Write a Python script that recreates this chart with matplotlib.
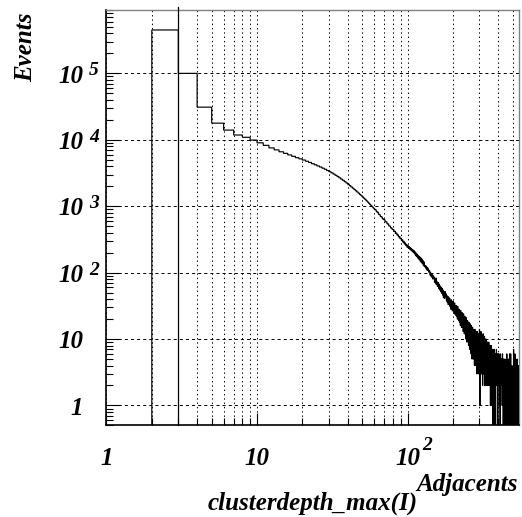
import numpy as np
import matplotlib
matplotlib.use('Agg')
import matplotlib.pyplot as plt
from matplotlib.ticker import LogLocator, NullFormatter

plt.rcParams['font.family'] = ['Liberation Serif', 'DejaVu Serif']
plt.rcParams['lines.scale_dashes'] = False

# histogram: one bin per integer, first filled bin starts at 2
first_bin = 2
counts = [
    450000, 100000, 31000, 17800, 14000, 11800, 10900, 9900,
    9000, 8250, 7550, 7050, 6600, 6250, 5920, 5630, 5380, 5160,
    4960, 4750, 4560, 4370, 4200, 4040, 3890, 3740, 3600, 3450,
    3310, 3180, 3050, 2920, 2800, 2680, 2560, 2450, 2340, 2240,
    2140, 2040, 1950, 1870, 1790, 1710, 1640, 1570, 1500, 1440,
    1380, 1320, 1265, 1210, 1160, 1110, 1065, 1020, 980, 940,
    905, 880, 826, 812, 760, 742, 700, 688, 648, 635,
    622, 585, 578, 545, 537, 505, 503, 474, 470, 446,
    447, 418, 420, 390, 395, 368, 370, 345, 348, 325,
    330, 305, 312, 288, 296, 270, 281, 258, 266, 243,
    256, 236, 246, 226, 237, 218, 228, 210, 220, 201,
    214, 192, 204, 180, 195, 174, 186, 165, 178, 158,
    172, 150, 166, 143, 160, 137, 152, 130, 145, 124,
    128, 119, 126, 113, 121, 108, 117, 110, 102, 108,
    104, 92, 99, 88, 95, 85, 92, 80, 89, 84,
    85, 72, 79, 70, 83, 66, 74, 69, 62, 71,
    70, 58, 66, 55, 63, 61, 52, 60, 49, 58,
    56, 46, 54, 42, 51, 49, 41, 52, 44, 47,
    48, 38, 45, 36, 44, 41, 33, 43, 37, 40,
    41, 31, 38, 35, 28, 39, 33, 36, 27, 35,
    37, 26, 33, 30, 24, 35, 28, 31, 23, 32,
    32, 22, 29, 26, 20, 31, 24, 27, 19, 28,
    28, 18, 26, 23, 16, 27, 21, 24, 15, 25,
    25, 15, 23, 20, 13, 24, 18, 21, 12, 22,
    22, 12, 20, 17, 10, 21, 15, 18, 9, 19,
    19, 10, 17, 15, 8, 18, 13, 16, 7, 17,
    17, 8, 15, 13, 6, 16, 11, 14, 5, 15,
    15, 7, 13, 11, 5, 14, 10, 12, 4, 13,
    14, 6, 12, 10, 4, 13, 9, 11, 3, 12,
    13, 5, 11, 9, 3, 12, 8, 10, 3, 11,
    14, 4, 1, 12, 3, 10, 5, 13, 3, 9,
    12, 3, 10, 4, 11, 2, 9, 5, 12, 3,
    10, 3, 9, 4, 11, 2, 8, 5, 10, 3,
    9, 2, 10, 4, 8, 3, 9, 2, 7, 4,
    9, 2, 8, 3, 7, 4, 9, 2, 8, 3,
    7, 3, 8, 2, 7, 1, 8, 3, 6, 2,
    8, 2, 7, 1, 6, 3, 7, 2, 0, 6,
    7, 1, 6, 3, 6, 0, 7, 2, 5, 1,
    6, 3, 5, 4, 0, 6, 4, 5, 3, 7,
    4, 5, 2, 6, 3, 4, 5, 0, 4, 6,
    3, 5, 4, 2, 6, 3, 4, 5, 1, 4,
    5, 3, 0, 4, 6, 2, 4, 3, 5, 3,
    4, 2, 5, 3, 4, 1, 3, 6, 2, 4,
    3, 5, 0, 3, 4, 2, 5, 3, 1, 4,
    2, 4, 3, 5, 0, 3, 2, 4, 3, 1,
    4, 2, 3, 0, 5, 2, 6, 4, 1, 3,
    2, 4, 1, 3, 0, 3, 2, 5, 2, 3,
    3, 1, 4, 2, 0, 3, 6, 1, 4, 2,
    2, 3, 0, 2, 6, 1, 3, 2, 0, 3,
    1, 3, 2, 4, 0, 2, 3, 1, 2, 0,
    3, 2, 1, 3, 0, 2, 7, 1, 2, 3,
    1, 0, 2, 3, 1, 2, 0, 6, 1, 2,
    2, 1, 5, 0, 2, 1, 2, 0, 3, 1,
    0, 2, 1, 2, 0, 5, 1, 1, 2, 0,
    1, 2, 0, 1, 2, 0, 1, 4, 1, 0,
]

x_range = (1, 550)
y_range = (0.5, 9e5)

xtick_vals = [1, 10, 100]
xtick_base = ['1', '10', '10']
xtick_exp = ['', '', '2']
ytick_vals = [1, 10, 1e2, 1e3, 1e4, 1e5]
ytick_base = ['1', '10', '10', '10', '10', '10']
ytick_exp = ['', '', '2', '3', '4', '5']

x_title = 'clusterdepth_max(I)'
x_unit = 'Adjacents'
y_title = 'Events'

edges = np.arange(first_bin, first_bin + len(counts) + 1)
vals = np.array(counts, dtype=float)
vals_disp = np.where(vals > 0, vals, 1e-3)   # empty bins drop to the floor like ROOT

fig = plt.figure(figsize=(5.22, 5.17), dpi=100)
ax = fig.add_axes([0.2040, 0.1770, 0.7902, 0.8037])
ax.set_xscale('log')
ax.set_yscale('log')
ax.set_xlim(*x_range)
ax.set_ylim(*y_range)

ax.stairs(vals_disp, edges, baseline=1e-3, color='black', lw=0.85, zorder=3)
# solid edge line that pokes just above the frame
ax.axvline(edges[1], ymin=0, ymax=1.006, clip_on=False, color='black', lw=0.9, zorder=3)

ax.xaxis.set_major_locator(LogLocator(base=10, numticks=10))
ax.xaxis.set_minor_locator(LogLocator(base=10, subs=np.arange(2, 10), numticks=20))
ax.yaxis.set_major_locator(LogLocator(base=10, numticks=20))
ax.yaxis.set_minor_locator(LogLocator(base=10, subs=np.arange(2, 10), numticks=20))
ax.xaxis.set_major_formatter(NullFormatter())
ax.xaxis.set_minor_formatter(NullFormatter())
ax.yaxis.set_major_formatter(NullFormatter())
ax.yaxis.set_minor_formatter(NullFormatter())

ax.tick_params(which='major', direction='in', length=9, width=0.8,
               top=False, right=False, color='black')
ax.tick_params(which='minor', direction='in', length=5, width=0.8,
               top=False, right=False, color='black')

ax.grid(True, which='both', axis='x', color='black', lw=0.7, ls=(0, (1.0, 2.1)))
ax.grid(True, which='major', axis='y', color='black', lw=0.7, ls=(0, (2.2, 2.2)))
ax.set_axisbelow(True)

for s in ['left', 'bottom']:
    ax.spines[s].set_linewidth(1.2)
    ax.spines[s].set_color('black')
for s in ['top', 'right']:
    ax.spines[s].set_linewidth(1.0)
    ax.spines[s].set_color('#808080')

fkw = dict(fontweight='bold', fontstyle='italic')

for v, b, e in zip(ytick_vals, ytick_base, ytick_exp):
    ax.annotate(b, xy=(0, v), xycoords=('axes fraction', 'data'),
                xytext=(-23.5, -9.2), textcoords='offset pixels',
                ha='right', va='baseline', fontsize=18, **fkw)
    if e:
        ax.annotate(e, xy=(0, v), xycoords=('axes fraction', 'data'),
                    xytext=(-17.5, -2.0), textcoords='offset pixels',
                    ha='left', va='baseline', fontsize=14, **fkw)

for v, b, e in zip(xtick_vals, xtick_base, xtick_exp):
    ax.annotate(b, xy=(v, 0), xycoords=('data', 'axes fraction'),
                xytext=(0, -39.5), textcoords='offset pixels',
                ha='center', va='baseline', fontsize=18, **fkw)
    if e:
        ax.annotate(e, xy=(v, 0), xycoords=('data', 'axes fraction'),
                    xytext=(14.6, -24.5), textcoords='offset pixels',
                    ha='left', va='baseline', fontsize=14, **fkw)

ax.annotate(x_unit, xy=(1, 0), xycoords='axes fraction',
            xytext=(-1, -66), textcoords='offset pixels',
            ha='right', va='baseline', fontsize=18, **fkw)
ax.annotate(x_title, xy=(0.5, 0), xycoords='axes fraction',
            xytext=(0, -84.5), textcoords='offset pixels',
            ha='center', va='baseline', fontsize=18, **fkw)
fig.text(32 / 522, 1 - 13 / 517, y_title, rotation=90, rotation_mode='anchor',
         ha='right', va='baseline', fontsize=18, **fkw)

fig.savefig('out.png', dpi=100)
